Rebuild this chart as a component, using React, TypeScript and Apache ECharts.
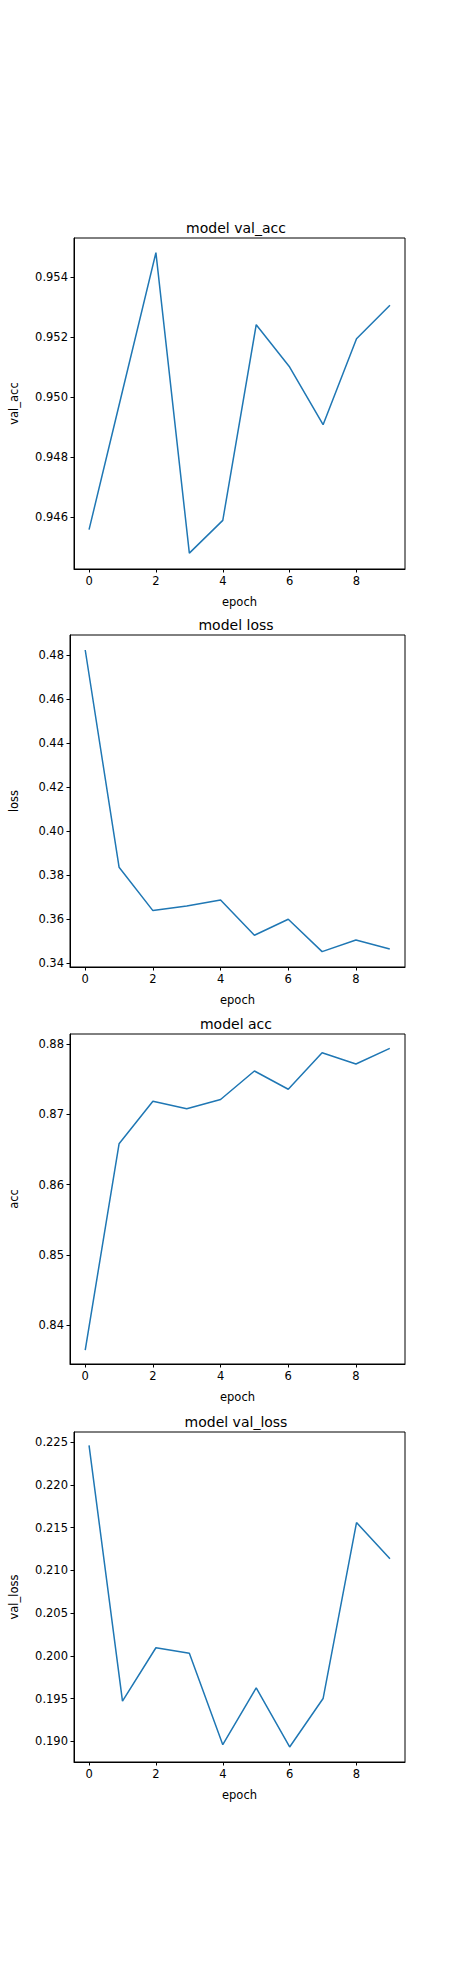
import * as echarts from 'echarts';
import { useEffect, useRef } from 'react';

const epochs = [0, 1, 2, 3, 4, 5, 6, 7, 8, 9];
const valAcc = [0.94558, 0.9502, 0.95481, 0.9448, 0.94589, 0.95241, 0.951, 0.94908, 0.95194, 0.95306];
const loss = [0.48227, 0.38363, 0.36394, 0.36606, 0.36878, 0.35273, 0.36, 0.3453, 0.3506, 0.34651];
const acc = [0.83644, 0.86582, 0.8719, 0.87081, 0.87214, 0.8762, 0.8736, 0.87881, 0.8772, 0.87943];
const valLoss = [0.22461, 0.19469, 0.20094, 0.20031, 0.18961, 0.19625, 0.18934, 0.195, 0.21558, 0.21136];

const xTicks = [0, 2, 4, 6, 8];
const valAccTicks = [0.946, 0.948, 0.95, 0.952, 0.954];
const lossTicks = [0.34, 0.36, 0.38, 0.4, 0.42, 0.44, 0.46, 0.48];
const accTicks = [0.84, 0.85, 0.86, 0.87, 0.88];
const valLossTicks = [0.19, 0.195, 0.2, 0.205, 0.21, 0.215, 0.22, 0.225];

const panels = [
  { title: 'model val_acc', name: 'val_acc', data: valAcc, ticks: valAccTicks, min: 0.94427, max: 0.9553, digits: 3, gap: 54, top: 238, height: 331 },
  { title: 'model loss', name: 'loss', data: loss, ticks: lossTicks, min: 0.33833, max: 0.48908, digits: 2, gap: 50, top: 635, height: 332 },
  { title: 'model acc', name: 'acc', data: acc, ticks: accTicks, min: 0.83445, max: 0.88147, digits: 2, gap: 50, top: 1034, height: 330 },
  { title: 'model val_loss', name: 'val_loss', data: valLoss, ticks: valLossTicks, min: 0.18758, max: 0.22617, digits: 3, gap: 54, top: 1432, height: 330 },
];

const font = 'DejaVu Sans';

export default function App() {
  const elRef = useRef<HTMLDivElement | null>(null);

  useEffect(() => {
    document.body.style.margin = '0';
    if (!elRef.current) return;
    const chart = echarts.init(elRef.current, undefined, { renderer: 'svg' });

    chart.setOption({
      animation: false,
      backgroundColor: '#fff',
      textStyle: { fontFamily: font },
      title: panels.map((p) => ({
        text: p.title,
        left: 231,
        textAlign: 'center',
        top: p.top - 22,
        textStyle: { fontFamily: font, fontSize: 14, fontWeight: 'normal', color: '#000' },
      })),
      grid: panels.map((p) => ({
        left: 57, width: 348, top: p.top, height: p.height,
        show: true, borderColor: '#000', borderWidth: 1, backgroundColor: 'transparent',
      })),
      xAxis: panels.map((_, i) => ({
        type: 'value', gridIndex: i, min: -0.45, max: 9.45,
        name: 'epoch', nameLocation: 'middle', nameGap: 27,
        nameTextStyle: { fontFamily: font, fontSize: 11.5, color: '#000' },
        axisLine: { show: true, onZero: false, lineStyle: { color: '#000' } },
        axisTick: { show: true, length: 3.5, customValues: xTicks, lineStyle: { color: '#000' } },
        axisLabel: { customValues: xTicks, fontFamily: font, fontSize: 11.5, color: '#000', margin: 6 },
        splitLine: { show: false },
      })),
      yAxis: panels.map((p, i) => ({
        type: 'value', gridIndex: i, min: p.min, max: p.max,
        name: p.name, nameLocation: 'middle', nameGap: p.gap, nameRotate: 90,
        nameTextStyle: { fontFamily: font, fontSize: 11.5, color: '#000' },
        axisLine: { show: true, onZero: false, lineStyle: { color: '#000' } },
        axisTick: { show: true, length: 3.5, customValues: p.ticks, lineStyle: { color: '#000' } },
        axisLabel: {
          customValues: p.ticks, fontFamily: font, fontSize: 11.5, color: '#000', margin: 6,
          formatter: (v: number) => v.toFixed(p.digits),
        },
        splitLine: { show: false },
      })),
      series: panels.map((p, i) => ({
        type: 'line', xAxisIndex: i, yAxisIndex: i,
        data: epochs.map((e, j) => [e, p.data[j]]),
        showSymbol: false, symbol: 'none',
        lineStyle: { color: '#1f77b4', width: 1.5 },
      })),
    });

    return () => chart.dispose();
  }, []);

  return <div ref={elRef} style={{ width: 450, height: 1980 }} />;
}
